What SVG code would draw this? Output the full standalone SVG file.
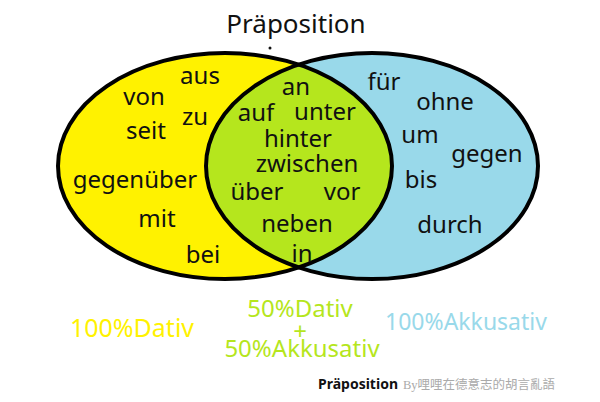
<svg xmlns="http://www.w3.org/2000/svg" width="600" height="402" viewBox="0 0 600 402">
<style>
.w{font-family:"Noto Sans","Open Sans",sans-serif;font-size:24px;fill:#111;text-anchor:middle}
.lbl{font-family:"Noto Sans","Open Sans",sans-serif;text-anchor:middle}
.ring{fill:none;stroke:#000;stroke-width:4}
</style>
<defs>
<clipPath id="cr"><ellipse cx="372" cy="166" rx="166" ry="113"/></clipPath>
</defs>
<rect width="600" height="402" fill="#fff"/>
<text x="296" y="33" class="lbl" font-size="26" fill="#111">Präposition</text>
<circle cx="270" cy="48" r="1.5" fill="#111"/>
<g id="dativ-set"><ellipse cx="225" cy="166" rx="167" ry="113" fill="#fff200"/></g>
<g id="akkusativ-set"><ellipse cx="372" cy="166" rx="166" ry="113" fill="#99d9ea"/></g>
<g id="both-set"><ellipse cx="225" cy="166" rx="167" ry="113" fill="#b5e61d" clip-path="url(#cr)"/></g>
<g id="outlines">
<ellipse class="ring" cx="225" cy="166" rx="167" ry="113"/>
<ellipse class="ring" cx="372" cy="166" rx="166" ry="113"/>
</g>
<g id="dativ-words">
<text class="w" x="200" y="84">aus</text>
<text class="w" x="144" y="105">von</text>
<text class="w" x="195" y="125">zu</text>
<text class="w" x="146" y="139">seit</text>
<text class="w" x="135" y="188">gegenüber</text>
<text class="w" x="157" y="227">mit</text>
<text class="w" x="203" y="263">bei</text>
</g>
<g id="both-words">
<text class="w" x="296" y="95">an</text>
<text class="w" x="256" y="121">auf</text>
<text class="w" x="325" y="120">unter</text>
<text class="w" x="298" y="147">hinter</text>
<text class="w" x="307" y="172">zwischen</text>
<text class="w" x="257" y="200">über</text>
<text class="w" x="342" y="200">vor</text>
<text class="w" x="297" y="232">neben</text>
<text class="w" x="302" y="262">in</text>
</g>
<g id="akkusativ-words">
<text class="w" x="384" y="90">für</text>
<text class="w" x="445" y="110">ohne</text>
<text class="w" x="420" y="143">um</text>
<text class="w" x="487" y="162">gegen</text>
<text class="w" x="421" y="188">bis</text>
<text class="w" x="450" y="233">durch</text>
</g>
<g id="labels">
<text class="lbl" x="132" y="337" font-size="25" fill="#fff200">100%Dativ</text>
<text class="lbl" x="300" y="317" font-size="24" fill="#b5e61d">50%Dativ</text>
<text class="lbl" x="300" y="340" font-size="24" fill="#b5e61d">+</text>
<text class="lbl" x="302" y="357" font-size="24" fill="#b5e61d">50%Akkusativ</text>
<text class="lbl" x="466" y="330" font-size="23" fill="#99d9ea">100%Akkusativ</text>
</g>
<g id="footer">
<text x="318" y="389" font-family="Noto Sans,Open Sans,sans-serif" font-size="14" font-weight="bold" fill="#111">Präposition</text>
<text x="403" y="389" font-family="Liberation Serif,Noto Sans CJK TC,serif" font-size="12.5" fill="#aaa">By哩哩在德意志的胡言亂語</text>
</g>
</svg>
